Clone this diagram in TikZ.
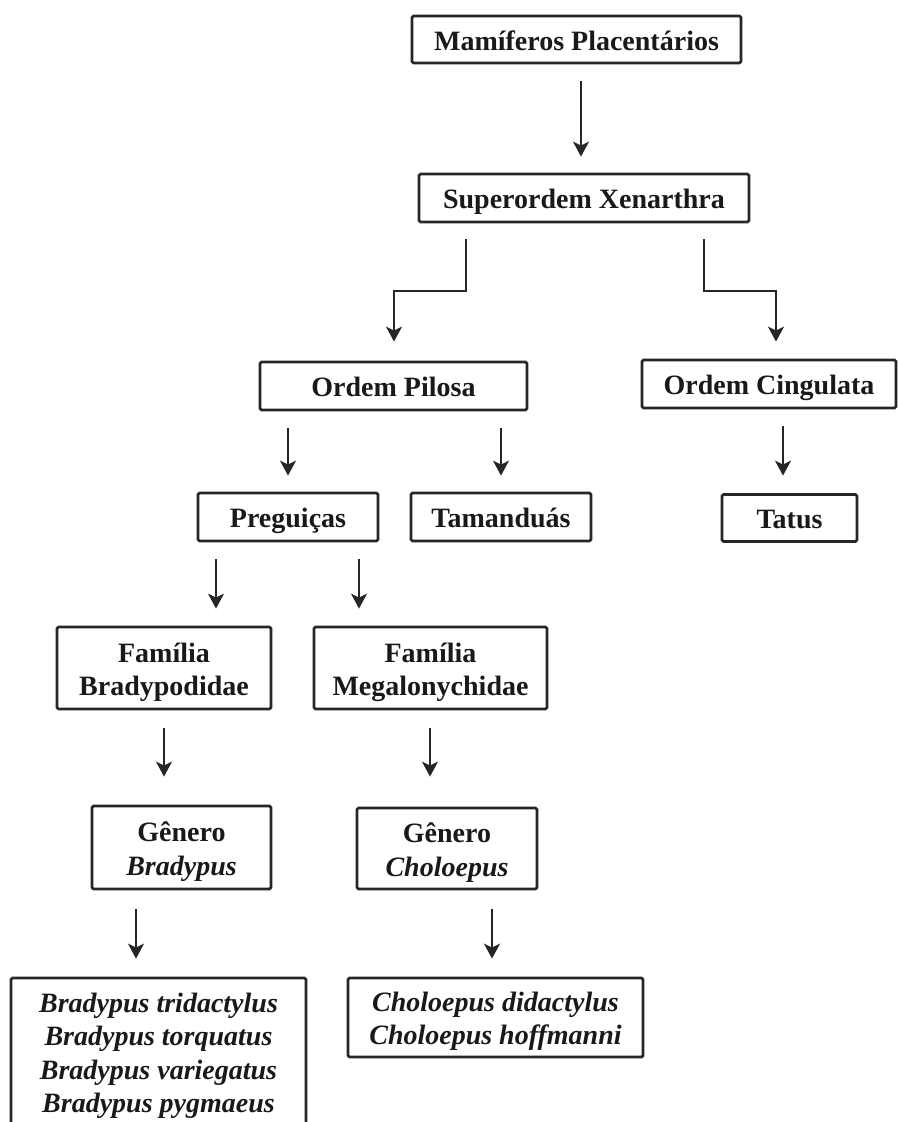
\documentclass[tikz,border=0pt]{standalone}
\usepackage{fontspec}
\setmainfont{Liberation Serif}
\usetikzlibrary{arrows.meta,calc}
\begin{document}
\begin{tikzpicture}[x=1pt,y=-1pt,
  box/.style={draw=black!85, line width=2.8pt, rounded corners=1.5pt, inner sep=0pt, align=center,
    font=\fontsize{28}{33.5}\selectfont\bfseries, text=black!90},
  one/.style={box, text height=27pt, text depth=6pt},
  two/.style={box, text height=61pt, text depth=6pt},
  spec/.style={box, font=\fontsize{28}{33.5}\selectfont\bfseries\itshape},
  arr/.style={draw=black!85, line width=2.2pt, -{Stealth[length=15pt,width=16pt,inset=4pt]}},
]
\useasboundingbox (0,0) rectangle (899,1122);
\clip (0,0) rectangle (899,1122);
\fill[white] (0,0) rectangle (899,1122);

% boxes
\node[one,minimum width=329pt,minimum height=47pt] (mam) at (576.5,39.5) {Mamíferos Placentários};
\node[one,minimum width=330pt,minimum height=48pt] (sup) at (584,198) {Superordem Xenarthra};
\node[one,minimum width=267pt,minimum height=48pt] (pil) at (393.5,386) {Ordem Pilosa};
\node[one,minimum width=254pt,minimum height=48pt] (cin) at (769,384) {Ordem Cingulata};
\node[one,minimum width=180pt,minimum height=48pt] (preg) at (288,517) {Preguiças};
\node[one,minimum width=180pt,minimum height=48pt] (tam) at (501,517) {Tamanduás};
\node[one,minimum width=135pt,minimum height=47pt] (tat) at (789.5,518) {Tatus};
\node[two,minimum width=214pt,minimum height=82pt] (famB) at (164,668) {Família\\Bradypodidae};
\node[two,minimum width=233pt,minimum height=82pt] (famM) at (430.5,668) {Família\\Megalonychidae};
\node[two,minimum width=179pt,minimum height=83pt] (genB) at (181.5,847.5) {Gênero\\\textit{Bradypus}};
\node[two,minimum width=180pt,minimum height=81pt] (genC) at (447,848.5) {Gênero\\\textit{Choloepus}};
\node[spec,text height=123pt,text depth=6pt,minimum width=295pt,minimum height=152pt] (spB) at (158.5,1054) {Bradypus tridactylus\\Bradypus torquatus\\Bradypus variegatus\\Bradypus pygmaeus};
\node[spec,text height=60pt,text depth=6pt,minimum width=295pt,minimum height=79pt] (spC) at (495.5,1017.5) {Choloepus didactylus\\Choloepus hoffmanni};

% x positions of connectors
\coordinate (a1) at (581,0);
\coordinate (e1) at (466,291);
\coordinate (e2) at (394,291);
\coordinate (e3) at (704,291);
\coordinate (e4) at (776,291);
\coordinate (a2) at (288,0);
\coordinate (a3) at (501,0);
\coordinate (a4) at (783,0);
\coordinate (a5) at (216,0);
\coordinate (a6) at (359,0);
\coordinate (a7) at (164,0);
\coordinate (a8) at (430,0);
\coordinate (a9) at (136,0);
\coordinate (a10) at (492,0);

% connectors
\draw[arr,shorten <=17pt,shorten >=16pt] (mam.south -| a1) -- (sup.north -| a1);
\draw[arr,shorten <=16pt,shorten >=19pt] (sup.south -| e1) -- (e1) -- (e2) -- (pil.north -| e2);
\draw[arr,shorten <=16pt,shorten >=17pt] (sup.south -| e3) -- (e3) -- (e4) -- (cin.north -| e4);
\draw[arr,shorten <=17pt,shorten >=16pt] (pil.south -| a2) -- (preg.north -| a2);
\draw[arr,shorten <=17pt,shorten >=16pt] (pil.south -| a3) -- (tam.north -| a3);
\draw[arr,shorten <=17pt,shorten >=17.5pt] (cin.south -| a4) -- (tat.north -| a4);
\draw[arr,shorten <=17pt,shorten >=17pt] (preg.south -| a5) -- (famB.north -| a5);
\draw[arr,shorten <=17pt,shorten >=17pt] (preg.south -| a6) -- (famM.north -| a6);
\draw[arr,shorten <=18pt,shorten >=28pt] (famB.south -| a7) -- (genB.north -| a7);
\draw[arr,shorten <=18pt,shorten >=30pt] (famM.south -| a8) -- (genC.north -| a8);
\draw[arr,shorten <=19pt,shorten >=18pt] (genB.south -| a9) -- (spB.north -| a9);
\draw[arr,shorten <=19pt,shorten >=18pt] (genC.south -| a10) -- (spC.north -| a10);
\end{tikzpicture}
\end{document}
